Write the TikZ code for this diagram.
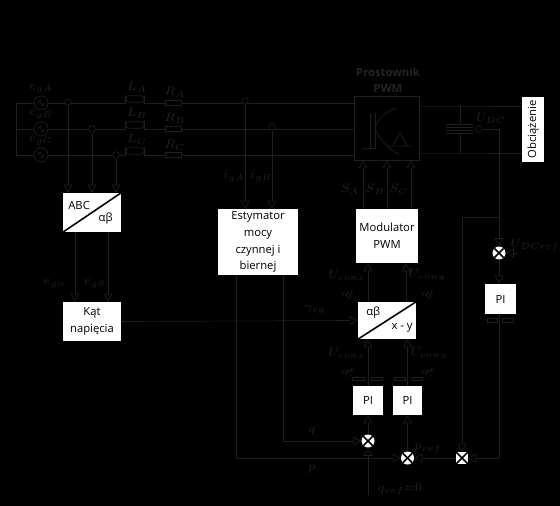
\documentclass[tikz,border=0pt]{standalone}
\usepackage{fontspec}
\setmainfont{Open Sans}
\usepackage{tikz}
\usetikzlibrary{arrows.meta,positioning}
\definecolor{wirecol}{gray}{0.12}
\definecolor{labelcol}{gray}{0.14}
\tikzset{
  wire/.style={draw=wirecol,line width=0.4pt},
  arrowwire/.style={wire,-{Triangle[open,length=4.5pt,width=5pt,fill=black]}},
  blockbox/.style={rectangle,fill=white,text=black,font=\fontsize{6.4}{9.6}\selectfont,align=center,inner sep=0pt},
  mult/.style={circle,fill=white,inner sep=0pt,minimum size=0.26cm,path picture={
    \draw[black,line width=0.9pt] (path picture bounding box.south west) -- (path picture bounding box.north east);
    \draw[black,line width=0.9pt] (path picture bounding box.north west) -- (path picture bounding box.south east);}},
  multsq/.style={mult,rectangle,minimum size=0.24cm},
  symb/.style={text=labelcol,font=\fontsize{7.5}{8}\selectfont,inner sep=0pt},
  tinyref/.style={text=labelcol,font=\fontsize{5}{6}\selectfont\itshape,inner sep=0pt},
  titlelab/.style={text=labelcol,font=\fontsize{6.4}{8}\selectfont\bfseries,inner sep=0pt},
  source/.style={circle,draw=wirecol,line width=0.4pt,fill=black,minimum size=0.28cm,inner sep=0pt},
  resbox/.style={rectangle,draw=wirecol,line width=0.4pt,fill=black,minimum width=0.32cm,minimum height=0.09cm,inner sep=0pt},
  tap/.style={circle,draw=wirecol,line width=0.4pt,fill=black,minimum size=0.13cm,inner sep=0pt},
  coil/.style={rectangle,draw=wirecol,line width=0.4pt,fill=black,minimum width=0.36cm,minimum height=0.13cm,inner sep=0pt,rounded corners=1.5pt}
}
\begin{document}
\begin{tikzpicture}[x=0.02cm,y=-0.02cm,>=Stealth]
\useasboundingbox (0,0) rectangle (560,506);
\fill[black] (0,0) rectangle (560,506);
% blocks
\node[blockbox,minimum width=1.16cm,minimum height=0.78cm] (abc) at (92,212.5) {};
\node[blockbox,minimum width=1.16cm,minimum height=0.78cm] (kat) at (92,321.5) {Kąt\\napięcia};
\node[blockbox,minimum width=1.60cm,minimum height=1.32cm] (est) at (258,242) {Estymator\\mocy\\czynnej i\\biernej};
\node[blockbox,minimum width=1.24cm,minimum height=1.08cm] (mod) at (387,236) {Modulator\\PWM};
\node[blockbox,minimum width=1.16cm,minimum height=0.74cm] (axy) at (387,320.5) {};
\node[blockbox,minimum width=0.62cm,minimum height=0.60cm] (piu) at (500.5,299) {PI};
\node[blockbox,minimum width=0.60cm,minimum height=0.58cm] (pix) at (368,400.5) {PI};
\node[blockbox,minimum width=0.58cm,minimum height=0.58cm] (piy) at (407.5,400.5) {PI};
\node[blockbox,minimum width=0.44cm,minimum height=1.30cm] (load) at (533,129.5) {\rotatebox{90}{Obciążenie}};
\node[rectangle,draw=wirecol,line width=0.4pt,minimum width=1.30cm,minimum height=1.28cm,inner sep=0pt] (rect) at (386.5,128) {};
\node[blockbox,anchor=north west] (abctxt) at (68,201) {ABC};
\node[blockbox,anchor=south east] (abcalpha) at (113,225) {αβ};
\node[blockbox,anchor=north west] (axyalpha) at (366,307) {αβ};
\node[blockbox,anchor=south east] (axyxy) at (413,333) {x - y};
\draw[black,line width=0.9pt] (abc.south west) -- (abc.north east);
\draw[black,line width=0.9pt] (axy.south west) -- (axy.north east);
% x positions of the wires
\coordinate (xea) at (75,0);
\coordinate (xeb) at (108,0);
\coordinate (xq) at (283,0);
\coordinate (xp) at (236,0);
\coordinate (xla) at (68,0);
\coordinate (xlb) at (92,0);
\coordinate (xlc) at (116,0);
\coordinate (xsa) at (363,0);
\coordinate (xsb) at (387,0);
\coordinate (xsc) at (411,0);
\coordinate (xux) at (368,0);
\coordinate (xuy) at (406,0);
\coordinate (xia) at (245,0);
\coordinate (xib) at (272,0);
% grid side
\node[source] (ea) at (41,103) {};
\node[source] (eb) at (41,129) {};
\node[source] (ec) at (41,155) {};
\coordinate (busa) at (16,103);
\coordinate (busc) at (16,155);
\node[coil] (la) at (135,99) {};
\node[coil] (lb) at (135,125) {};
\node[coil] (lc) at (135,151) {};
\node[resbox] (ra) at (173,103) {};
\node[resbox] (rb) at (173,129) {};
\node[resbox] (rc) at (173,155) {};
\draw[wire] (busa) -- (busc);
\draw[wire] (busa) -- (ea) -- (la.west |- ea) (la.east |- ea) -- (ra) -- (rect.west |- ra);
\draw[wire] (busa |- eb) -- (eb) -- (lb.west |- eb) (lb.east |- eb) -- (rb) -- (rect.west |- rb);
\draw[wire] (busc) -- (ec) -- (lc.west |- ec) (lc.east |- ec) -- (rc) -- (rect.west |- rc);
\draw[wire] (la.north west) -- (la.south west |- ea) (la.north east) -- (la.south east |- ea);
\draw[wire] (lb.north west) -- (lb.south west |- eb) (lb.north east) -- (lb.south east |- eb);
\draw[wire] (lc.north west) -- (lc.south west |- ec) (lc.north east) -- (lc.south east |- ec);
\draw[wire] (38,103) .. controls (39.5,99) and (41,99) .. (41,103) .. controls (41,107) and (42.5,107) .. (44,103);
\draw[wire] (38,129) .. controls (39.5,125) and (41,125) .. (41,129) .. controls (41,133) and (42.5,133) .. (44,129);
\draw[wire] (38,155) .. controls (39.5,151) and (41,151) .. (41,155) .. controls (41,159) and (42.5,159) .. (44,155);
% taps on the grid lines
\node[tap] (ta) at (68,102) {};
\node[tap] (tb) at (92,129) {};
\node[tap] (tc) at (116,155) {};
\node[tap] (tia) at (245,101) {};
\node[tap] (tib) at (272,127) {};
\draw[arrowwire] (ta) -- (abc.north -| xla);
\draw[arrowwire] (tb) -- (abc.north -| xlb);
\draw[arrowwire] (tc) -- (abc.north -| xlc);
\draw[arrowwire] (tia) -- (est.north -| xia);
\draw[arrowwire] (tib) -- (est.north -| xib);
\draw[arrowwire] (abc.south -| xea) -- (kat.north -| xea);
\draw[arrowwire] (abc.south -| xeb) -- (kat.north -| xeb);
\draw[arrowwire] (kat.east) -- (axy.west);
% rectifier symbol
\draw[wire] (362,148) -- (370,148) -- (370,113) (375,113) -- (375,148) -- (370,148);
\draw[wire] (376,126) .. controls (380,116) and (386,112) .. (396,108) (376,130) .. controls (382,143) and (390,150) .. (399,154);
\draw[wire] (393,146) -- (400,133) -- (407,146) -- cycle (388,146) -- (412,146);
% dc side
\coordinate (dca) at (460,106);
\coordinate (dcb) at (460,153);
\node[tap] (usens) at (479,129) {};
\draw[wire] (rect.east |- dca) -- (dca) -- (load.west |- dca);
\draw[wire] (rect.east |- dcb) -- (dcb) -- (load.west |- dcb);
\draw[wire] (dca) -- (460,124) (460,133) -- (dcb);
\draw[wire] (446,124) -- (473,124) (446,127) -- (473,127) (446,130) -- (473,130) (446,133) -- (473,133);
% modulator and control
\draw[arrowwire] (mod.north -| xsa) -- (rect.south -| xsa);
\draw[arrowwire] (mod.north -| xsb) -- (rect.south -| xsb);
\draw[arrowwire] (mod.north -| xsc) -- (rect.south -| xsc);
\draw[arrowwire] (axy.north -| xux) -- (mod.south -| xux);
\draw[arrowwire] (axy.north -| xuy) -- (mod.south -| xuy);
\draw[arrowwire] (pix) -- (axy.south -| pix);
\draw[arrowwire] (piy) -- (axy.south -| piy);
\node[mult] (mu) at (499,253) {};
\node[mult] (mq) at (368,441) {};
\node[mult] (mp) at (407.5,458) {};
\node[multsq] (mdc) at (462,458) {};
\coordinate (turn) at (499,217);
\coordinate (uout) at (499,458);
\coordinate (qref) at (368,495);
\coordinate (uref) at (517,253);
\draw[arrowwire] (usens.east) -| (mu);
\draw[arrowwire] (uref) -- (mu);
\draw[arrowwire] (mu) -- (piu.north -| mu);
\draw[arrowwire] (turn) -| (mdc);
\draw[wire] (piu.south -| uout) -- (uout);
\draw[arrowwire] (uout) -- (mdc);
\draw[arrowwire] (mdc) -- (mp);
\draw[arrowwire] (mq) -- (pix);
\draw[arrowwire] (mp) -- (piy);
\draw[arrowwire] (qref) -- (mq);
\draw[arrowwire] (est.south -| xq) |- (mq);
\draw[arrowwire] (est.south -| xp) |- (mp);
% short marks at the PI outputs
\draw[wire] (352,377) rectangle (364,380) (371,377) rectangle (382,380);
\draw[wire] (394,377) rectangle (405,380) (412,377) rectangle (422,380);
\draw[wire] (487,318) rectangle (497,322) (502,318) rectangle (513,322);
% labels
\node[titlelab] (ttl1) at (388,72) {Prostownik};
\node[titlelab] (ttl2) at (388,88) {PWM};
\node[symb] (lea) at (41,89) {$e_{gA}$};
\node[symb] (leb) at (41,115) {$e_{gB}$};
\node[symb] (lec) at (41,141) {$e_{gC}$};
\node[symb] (lla) at (137,87) {$L_{A}$};
\node[symb] (llb) at (137,113) {$L_{B}$};
\node[symb] (llc) at (137,139) {$L_{C}$};
\node[symb] (lra) at (175,92) {$R_{A}$};
\node[symb] (lrb) at (175,118) {$R_{B}$};
\node[symb] (lrc) at (175,145) {$R_{C}$};
\node[symb] (lia) at (234,176) {$i_{gA}$};
\node[symb] (lib) at (261,176) {$i_{gB}$};
\node[symb] (lgalpha) at (55,284) {$e_{g\alpha}$};
\node[symb] (lgbeta) at (95,284) {$e_{g\beta}$};
\node[symb] (lgam) at (315,310) {$\gamma_{eg}$};
\node[symb] (lsa) at (350,189) {$S_{A}$};
\node[symb] (lsb) at (375,189) {$S_{B}$};
\node[symb] (lsc) at (399,189) {$S_{C}$};
\node[symb] (ludc) at (491,118) {$U_{DC}$};
\node[symb] (ludcr) at (535,245) {$U_{DCref}$};
\node[symb] (lut1) at (347,275) {$U_{conx}$};
\node[symb] (lut2) at (427,275) {$U_{cony}$};
\node[tinyref] (lrf1) at (347,295) {ref};
\node[tinyref] (lrf2) at (427,295) {ref};
\node[symb] (lub1) at (347,353) {$U_{conx}$};
\node[symb] (lub2) at (429,353) {$U_{cony}$};
\node[tinyref] (lrf3) at (347,373) {ref};
\node[tinyref] (lrf4) at (427,373) {ref};
\node[symb] (lq) at (312,431) {$q$};
\node[symb] (lp) at (312,469) {$p$};
\node[symb] (lpr) at (428,449) {$p_{ref}$};
\node[symb] (lqr) at (400,489) {$q_{ref}{=}0$};
\end{tikzpicture}
\end{document}
